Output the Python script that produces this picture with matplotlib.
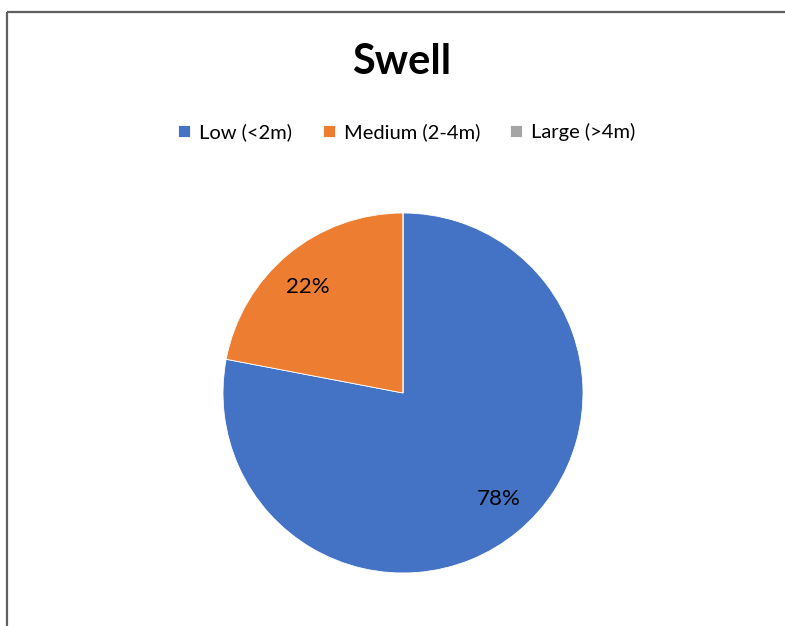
import numpy as np
import matplotlib.pyplot as plt
from matplotlib.lines import Line2D

# swell size shares
categories = ["Low (<2m)", "Medium (2-4m)", "Large (>4m)"]
shares = [78, 22, 0]
colors = ["#4472C4", "#ED7D31", "#A5A5A5"]

plt.rcParams['font.family'] = ['Lato', 'DejaVu Sans']

W, H = 785, 626
fig = plt.figure(figsize=(W / 100, H / 100), dpi=100)

# pie area: 360px square around (403, 393)
ax = fig.add_axes([223 / W, (H - 393 - 180) / H, 360 / W, 360 / H])


def pct_label(p):
    return f"{p:.0f}%" if p > 0 else ""


wedges, _, autotexts = ax.pie(
    shares, colors=colors, startangle=90, counterclock=False,
    autopct=pct_label, pctdistance=0.79,
    wedgeprops=dict(edgecolor="white", linewidth=0.6),
    textprops=dict(fontsize=16, color="black"))
ax.set_xlim(-1, 1)
ax.set_ylim(-1, 1)
ax.set_aspect("auto")
ax.axis("off")

# turn the percentage labels a couple of degrees counter-clockwise
rot = np.deg2rad(2.5)
for t in autotexts:
    x, y = t.get_position()
    t.set_position((x * np.cos(rot) - y * np.sin(rot),
                    x * np.sin(rot) + y * np.cos(rot)))

fig.text(402 / W, 1 - 62 / H, "Swell", ha="center", va="center",
         fontsize=30, fontweight="bold")

fig.legend(wedges, categories, loc="center", bbox_to_anchor=(407 / W, 1 - 132 / H),
           ncol=3, frameon=False, fontsize=14.5, handlelength=0.6, handleheight=0.6,
           handletextpad=0.45, columnspacing=1.5)

# chart frame (only top and left edges fall inside the image)
frame = dict(color="#606060", linewidth=1.6, solid_capstyle="butt")
fig.add_artist(Line2D([7 / W, 7 / W], [0, 1 - 12 / H], **frame))
fig.add_artist(Line2D([7 / W, 1.05], [1 - 12 / H, 1 - 12 / H], clip_on=False, **frame))

fig.savefig("out.png", dpi=100)
